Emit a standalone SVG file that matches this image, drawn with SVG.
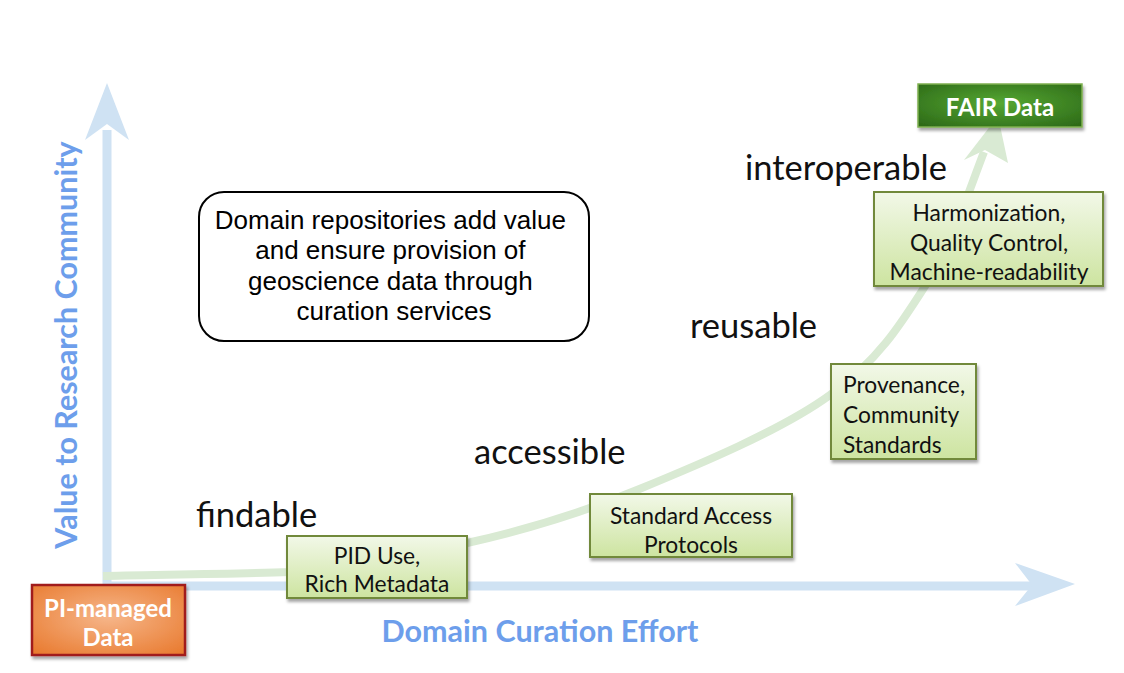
<svg xmlns="http://www.w3.org/2000/svg" width="1124" height="673" viewBox="0 0 1124 673">
<defs>
<linearGradient id="gGreen" x1="0" y1="0" x2="0" y2="1">
<stop offset="0" stop-color="#f2f8e8"/>
<stop offset="1" stop-color="#cde4a0"/>
</linearGradient>
<radialGradient id="gOrange" cx="0.5" cy="0.45" r="0.75">
<stop offset="0" stop-color="#f6b68a"/>
<stop offset="1" stop-color="#e8772a"/>
</radialGradient>
<radialGradient id="gFair" cx="0.5" cy="0.45" r="0.7">
<stop offset="0" stop-color="#56a833"/>
<stop offset="1" stop-color="#2d6a18"/>
</radialGradient>
<filter id="shadow" x="-10%" y="-10%" width="125%" height="135%">
<feDropShadow dx="1.5" dy="3" stdDeviation="1.8" flood-color="#000" flood-opacity="0.35"/>
</filter>
<style>
.gbox{fill:url(#gGreen);stroke:#71893a;stroke-width:2;filter:url(#shadow)}
.gtxt{font-family:Lato,"Open Sans",sans-serif;font-size:22.8px;fill:#111}
.stage{font-family:Lato,"Open Sans",sans-serif;font-size:34.5px;fill:#111}
.axl{font-family:Lato,"Open Sans",sans-serif;font-size:30.5px;font-weight:bold;fill:#6d9eeb}
.wtxt{font-family:Lato,"Open Sans",sans-serif;font-size:24px;font-weight:bold;fill:#fff}
.axis{fill:none;stroke:#cfe2f3;stroke-width:9}
.curve{fill:none;stroke:#d9ead3;stroke-width:8}
</style>
</defs>
<rect width="1124" height="673" fill="#fff"/>

<g id="connectors">
<path class="axis" d="M107,130 L107,586 L1035,586"/>
<polygon points="107,83 129,140 107,124 85,140" fill="#cfe2f3"/>
<polygon points="1075,584 1015,563 1032,585 1015,606" fill="#cfe2f3"/>
<path class="curve" d="M103,576 C134,575 230,574 290,572 C351,566 409,556 467,543 C525,530 577,515 637,490 C698,465 782,430 830,395 C878,361 901,324 927,283 C953,243 975,174 984,152"/>
<polygon points="998,116 1008,163 985,150 964,160" fill="#d9ead3"/>
</g>

<g id="label-y">
<text class="axl" transform="translate(77,345) rotate(-90)" text-anchor="middle">Value to Research Community</text>
</g>
<g id="label-x">
<text class="axl" x="540" y="642" text-anchor="middle">Domain Curation Effort</text>
</g>

<g id="note">
<rect x="199" y="192" width="390" height="149" rx="25" fill="#fff" stroke="#000" stroke-width="2"/>
<text font-family="'Liberation Sans',Arial,sans-serif" font-size="26" text-anchor="middle" fill="#000">
<tspan x="394" y="229">Domain repositories add value</tspan>
<tspan x="394" y="259">and ensure provision of</tspan>
<tspan x="394" y="290">geoscience data through</tspan>
<tspan x="394" y="320">curation services</tspan>
</text>
</g>

<g id="stage-findable"><text class="stage" x="196" y="527">findable</text></g>
<g id="stage-accessible"><text class="stage" x="474" y="464">accessible</text></g>
<g id="stage-reusable"><text class="stage" x="690" y="338">reusable</text></g>
<g id="stage-interoperable"><text class="stage" x="745" y="180">interoperable</text></g>

<g id="node-pid">
<rect class="gbox" x="287" y="536" width="180" height="62"/>
<text class="gtxt" text-anchor="middle"><tspan x="377" y="564">PID Use,</tspan><tspan x="377" y="592">Rich Metadata</tspan></text>
</g>
<g id="node-access">
<rect class="gbox" x="590" y="494" width="202" height="63"/>
<text class="gtxt" text-anchor="middle"><tspan x="691" y="524">Standard Access</tspan><tspan x="691" y="553">Protocols</tspan></text>
</g>
<g id="node-provenance">
<rect class="gbox" x="831" y="364" width="145" height="95"/>
<text class="gtxt"><tspan x="843" y="393">Provenance,</tspan><tspan x="843" y="423">Community</tspan><tspan x="843" y="453">Standards</tspan></text>
</g>
<g id="node-harmonization">
<rect class="gbox" x="874" y="192" width="229" height="94"/>
<text class="gtxt" text-anchor="middle"><tspan x="989" y="221">Harmonization,</tspan><tspan x="989" y="251">Quality Control,</tspan><tspan x="989" y="280">Machine-readability</tspan></text>
</g>

<g id="node-pi">
<rect x="32" y="585" width="153" height="70" fill="url(#gOrange)" stroke="#a11c1c" stroke-width="2.5" filter="url(#shadow)"/>
<text class="wtxt" text-anchor="middle"><tspan x="108" y="617">PI-managed</tspan><tspan x="108" y="646">Data</tspan></text>
</g>
<g id="node-fair">
<rect x="918" y="84" width="164" height="43" fill="url(#gFair)" stroke="#7fb050" stroke-width="1.5" filter="url(#shadow)"/>
<text class="wtxt" x="1000" y="116" text-anchor="middle">FAIR Data</text>
</g>
</svg>
